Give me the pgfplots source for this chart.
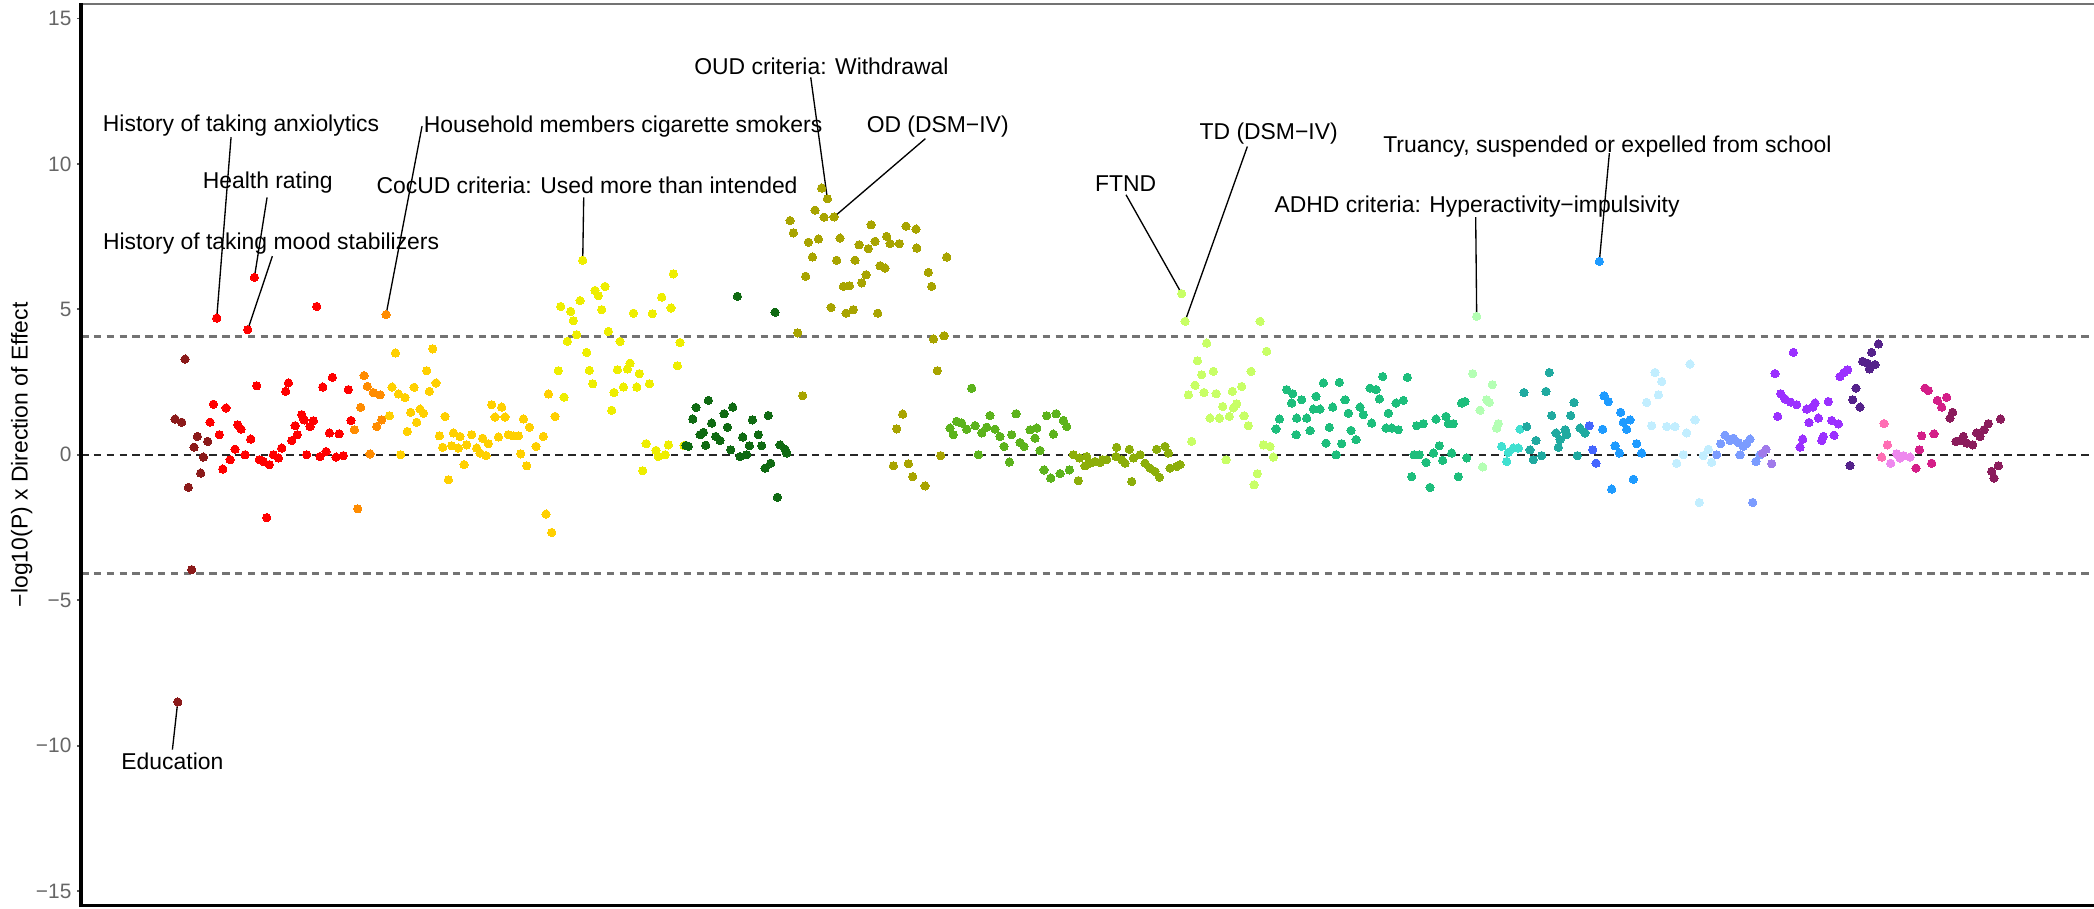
\documentclass[border=0pt]{standalone}
\usepackage{pgfplots}
\pgfplotsset{compat=1.18}
\usepackage{fontspec}
\setmainfont{Liberation Sans}
\definecolor{c1}{HTML}{8B1A1A}
\definecolor{c2}{HTML}{FF0000}
\definecolor{c3}{HTML}{FF8C00}
\definecolor{c4}{HTML}{FFD000}
\definecolor{c5}{HTML}{EEEE00}
\definecolor{c6}{HTML}{0F6A12}
\definecolor{c7}{HTML}{A8A400}
\definecolor{c8}{HTML}{5CB31C}
\definecolor{c9}{HTML}{8CAE0A}
\definecolor{c10}{HTML}{C8FF66}
\definecolor{c11}{HTML}{1DBE7C}
\definecolor{c12}{HTML}{B4FFB4}
\definecolor{c13}{HTML}{40E0D0}
\definecolor{c14}{HTML}{20AAA0}
\definecolor{c15}{HTML}{4466FF}
\definecolor{c16}{HTML}{1E9BFF}
\definecolor{c17}{HTML}{C2EEFF}
\definecolor{c18}{HTML}{7B9CFF}
\definecolor{c19}{HTML}{A07AEA}
\definecolor{c20}{HTML}{9B30FF}
\definecolor{c21}{HTML}{55228B}
\definecolor{c22}{HTML}{FF6EB4}
\definecolor{c23}{HTML}{EE88EE}
\definecolor{c24}{HTML}{D41E88}
\definecolor{c25}{HTML}{8B1C5C}
\pgfplotsset{pt/.style={only marks, mark=*, mark size=2.2pt, color=#1, mark options={fill=#1, draw=#1, line width=0pt}}}
\newcommand{\lab}{\fontsize{12.2pt}{14pt}\selectfont}
\begin{document}
\begin{tikzpicture}
\begin{axis}[
  width=376.8mm, height=168.75mm, scale only axis,
  xmin=243, xmax=6282, ymin=-15.5, ymax=15.5,
  axis line style={draw=none},
  xtick=\empty,
  ytick={-15,-10,-5,0,5,10,15},
  yticklabels={−15,−10,−5,0,5,10,15},
  ytick pos=left, tick align=outside,
  major tick length=0.75mm,
  tick style={draw=black!65, line width=0.35mm},
  yticklabel style={font=\fontsize{11.1pt}{13pt}\selectfont, text=black!60, inner xsep=1mm},
  clip=false,
]
\coordinate (sw) at (rel axis cs:0,0);
\coordinate (nw) at (rel axis cs:0,1);
\coordinate (se) at (rel axis cs:1,0);
\coordinate (ne) at (rel axis cs:1,1);
\coordinate (lm) at (rel axis cs:0,0.5);
% dark red
\addplot[pt=c1] coordinates {(555,3.29)(525,1.23)(545,1.12)(592,0.63)(623,0.46)(582,0.26)(610,-0.08)(602,-0.63)(565,-1.12)(575,-3.95)(533,-8.5)};
% red
\addplot[pt=c2] coordinates {(650,4.70)(763,6.10)(743,4.30)(950,5.10)(770,2.37)(865,2.47)(857,2.18)(997,2.66)(968,2.33)(1045,2.24)(640,1.74)(678,1.61)(630,1.12)(658,0.69)(713,1.03)(723,0.88)(752,0.54)(905,1.38)(912,1.20)(940,1.17)(930,0.97)(885,1.00)(892,0.69)(875,0.49)(845,0.23)(820,0.00)(835,-0.11)(808,-0.34)(790,-0.23)(778,-0.17)(735,0.00)(705,0.19)(690,-0.17)(668,-0.49)(920,0.00)(960,-0.06)(978,0.11)(1008,-0.08)(1030,-0.03)(988,0.75)(1017,0.72)(1053,1.18)(800,-2.16)};
% orange
\addplot[pt=c3] coordinates {(1158,4.82)(1092,2.72)(1102,2.35)(1120,2.14)(1140,2.06)(1082,1.63)(1145,1.20)(1130,0.97)(1063,0.86)(1110,0.03)(1073,-1.86)};
% gold
\addplot[pt=c4] coordinates {(1186,3.50)(1298,3.64)(1280,2.89)(1308,2.47)(1288,2.18)(1176,2.33)(1195,2.09)(1215,1.97)(1242,2.32)(1232,1.46)(1260,1.57)(1270,1.43)(1250,1.12)(1222,0.80)(1168,1.34)(1335,1.32)(1318,0.65)(1360,0.75)(1380,0.63)(1415,0.69)(1448,0.57)(1465,0.38)(1328,0.26)(1355,0.31)(1375,0.23)(1400,0.34)(1430,0.23)(1440,0.06)(1458,-0.03)(1475,1.72)(1505,1.64)(1485,1.30)(1515,1.30)(1495,0.61)(1525,0.69)(1540,0.65)(1555,0.65)(1570,1.23)(1588,0.95)(1608,0.29)(1562,0.03)(1580,-0.38)(1392,-0.34)(1345,-0.86)(1202,0.00)(1645,2.09)(1665,1.32)(1630,0.63)(1638,-2.04)(1655,-2.67)};
% yellow
\addplot[pt=c5] coordinates {(1748,6.69)(2020,6.22)(1815,5.79)(1785,5.65)(1795,5.47)(1740,5.30)(1682,5.10)(1712,4.93)(1805,4.99)(1985,5.42)(2013,5.05)(1900,4.87)(1957,4.85)(1720,4.61)(1825,4.24)(1730,4.13)(1702,3.90)(1860,3.90)(2040,3.86)(1760,3.52)(1675,2.89)(1768,2.90)(1852,2.92)(1882,2.95)(1890,3.15)(1918,2.79)(2032,3.06)(1778,2.44)(1870,2.33)(1910,2.33)(1948,2.44)(1842,2.14)(1692,1.98)(1835,1.53)(1938,0.38)(2005,0.34)(1968,0.15)(1975,-0.06)(1995,0.00)(2052,0.32)(1928,-0.55)};
% dark green
\addplot[pt=c6] coordinates {(2212,5.45)(2325,4.90)(2125,1.87)(2088,1.63)(2198,1.64)(2172,1.41)(2078,1.23)(2135,1.09)(2257,1.20)(2305,1.35)(2182,0.95)(2100,0.69)(2110,0.77)(2147,0.63)(2228,0.61)(2275,0.69)(2160,0.49)(2117,0.33)(2065,0.29)(2058,0.32)(2192,0.17)(2248,0.31)(2285,0.31)(2340,0.34)(2355,0.19)(2360,0.06)(2220,-0.06)(2240,0.00)(2312,-0.29)(2295,-0.46)(2332,-1.46)};
% olive
\addplot[pt=c7] coordinates {(2465,9.17)(2482,8.80)(2445,8.41)(2472,8.17)(2502,8.18)(2370,8.05)(2380,7.63)(2613,7.91)(2718,7.86)(2748,7.76)(2750,7.11)(2425,7.31)(2455,7.42)(2520,7.45)(2577,7.22)(2605,7.09)(2625,7.34)(2660,7.51)(2670,7.26)(2698,7.26)(2437,6.80)(2510,6.69)(2565,6.69)(2640,6.50)(2655,6.42)(2417,6.14)(2598,6.19)(2585,5.91)(2530,5.79)(2548,5.81)(2493,5.07)(2538,4.87)(2560,4.99)(2633,4.87)(2393,4.19)(2408,2.03)(2708,1.40)(2690,0.89)(2680,-0.38)(2725,-0.31)(2738,-0.75)(2840,6.80)(2785,6.27)(2795,5.79)(2800,3.98)(2832,4.09)(2812,2.89)(2822,-0.03)(2775,-1.07)};
% green
\addplot[pt=c8] coordinates {(2915,2.29)(2970,1.35)(3048,1.41)(3140,1.34)(3168,1.41)(3190,1.18)(3200,0.97)(2850,0.92)(2870,1.15)(2885,1.09)(2900,0.88)(2925,1.00)(2945,0.75)(2960,0.95)(2985,0.88)(3000,0.63)(3035,0.69)(3060,0.42)(3072,0.29)(3090,0.86)(3110,0.92)(3105,0.57)(3120,0.15)(3160,0.71)(3012,0.29)(2935,0.00)(3028,-0.25)(3132,-0.52)(3152,-0.80)(3180,-0.65)(3208,-0.52)(2860,0.69)};
% olive green
\addplot[pt=c9] coordinates {(3220,0.00)(3238,-0.11)(3235,-0.89)(3255,-0.38)(3270,-0.29)(3285,-0.23)(3300,-0.26)(3320,-0.17)(3350,0.26)(3348,-0.06)(3365,-0.17)(3388,0.19)(3400,-0.11)(3420,0.00)(3395,-0.92)(3435,-0.29)(3450,-0.46)(3465,-0.57)(3478,-0.77)(3470,0.19)(3495,0.29)(3505,0.06)(3510,-0.46)(3530,-0.40)(3540,-0.34)(3260,-0.06)(3375,-0.29)(3308,-0.17)};
% light yellow-green
\addplot[pt=c10] coordinates {(3545,5.54)(3555,4.59)(3780,4.59)(3620,3.84)(3800,3.56)(3592,3.23)(3605,2.75)(3640,2.87)(3753,2.87)(3585,2.39)(3612,2.14)(3565,2.06)(3648,2.10)(3697,2.18)(3725,2.35)(3710,1.75)(3668,1.66)(3700,1.61)(3630,1.26)(3658,1.26)(3688,1.32)(3732,1.34)(3745,1.00)(3575,0.46)(3790,0.34)(3810,0.29)(3820,-0.08)(3678,-0.17)(3772,-0.65)(3762,-1.03)};
% emerald
\addplot[pt=c11] coordinates {(3860,2.24)(3878,2.10)(3875,1.78)(3838,1.23)(3828,0.89)(3890,1.26)(3888,0.69)(3905,1.89)(3920,1.26)(3930,0.83)(3948,2.01)(3940,1.57)(3960,1.57)(3970,2.47)(4018,2.49)(3998,1.64)(3988,0.94)(3978,0.40)(4025,0.38)(4008,0.00)(4035,1.89)(4045,1.43)(4053,0.84)(4068,0.52)(4080,1.64)(4090,1.38)(4110,2.29)(4128,2.24)(4138,1.92)(4148,2.69)(4115,1.09)(4158,0.92)(4175,0.92)(4195,0.86)(4165,1.43)(4188,1.78)(4210,1.87)(4222,2.66)(4250,1.00)(4270,1.07)(4308,1.23)(4338,1.32)(4345,1.07)(4360,1.07)(4385,1.78)(4395,1.83)(4242,0.00)(4258,0.00)(4278,-0.26)(4300,0.06)(4318,0.31)(4328,-0.19)(4355,0.06)(4400,-0.11)(4235,-0.75)(4290,-1.12)(4375,-0.75)};
% pale green
\addplot[pt=c12] coordinates {(4430,4.76)(4418,2.79)(4477,2.41)(4460,1.89)(4468,1.80)(4440,1.53)(4495,1.07)(4490,0.92)(4448,-0.42)};
% turquoise
\addplot[pt=c13] coordinates {(4505,0.29)(4525,0.08)(4540,0.23)(4555,0.23)(4520,-0.23)(4560,0.88)};
% teal
\addplot[pt=c14] coordinates {(4572,2.14)(4648,2.83)(4638,2.18)(4580,0.97)(4655,1.35)(4712,1.35)(4722,1.80)(4608,0.49)(4590,0.17)(4600,-0.17)(4625,-0.03)(4668,0.75)(4680,0.52)(4695,0.86)(4700,0.69)(4675,0.26)(4732,-0.03)(4740,0.92)(4755,0.75)};
% blue
\addplot[pt=c15] coordinates {(4768,1.00)(4778,0.17)(4788,-0.29)};
% dodger blue
\addplot[pt=c16] coordinates {(4798,6.65)(4812,2.03)(4825,1.83)(4862,1.46)(4890,1.20)(4870,1.12)(4880,0.88)(4808,0.88)(4845,0.31)(4858,0.06)(4910,0.38)(4925,0.06)(4900,-0.84)(4835,-1.18)};
% light cyan
\addplot[pt=c17] coordinates {(4965,2.83)(4985,2.52)(4975,2.06)(4940,1.80)(4955,1.00)(5000,0.97)(5025,0.97)(5030,-0.29)(5070,3.12)(5085,1.20)(5060,0.75)(5050,0.00)(5110,-0.03)(5135,-0.26)(5098,-1.64)(5125,0.19)};
% cornflower
\addplot[pt=c18] coordinates {(5175,0.67)(5200,0.57)(5162,0.38)(5215,0.42)(5230,0.29)(5250,0.54)(5240,0.38)(5150,0.00)(5220,0.00)(5268,-0.23)(5258,-1.64)(5280,0.00)(5190,0.49)};
% medium purple
\addplot[pt=c19] coordinates {(5298,0.19)(5315,-0.31)(5288,0.06)};
% purple
\addplot[pt=c20] coordinates {(5380,3.52)(5325,2.79)(5342,2.10)(5355,1.92)(5372,1.81)(5390,1.72)(5420,1.57)(5438,1.64)(5445,1.78)(5485,1.83)(5333,1.32)(5427,1.11)(5455,1.26)(5495,1.18)(5515,1.06)(5520,2.69)(5532,2.83)(5543,2.92)(5408,0.54)(5400,0.26)(5470,0.63)(5465,0.49)(5502,0.67)};
% dark purple
\addplot[pt=c21] coordinates {(5635,3.81)(5615,3.52)(5588,3.21)(5602,3.15)(5608,2.95)(5625,3.10)(5568,2.29)(5558,1.89)(5580,1.64)(5550,-0.37)};
% hot pink
\addplot[pt=c22] coordinates {(5652,1.07)(5662,0.34)(5645,-0.08)};
% violet
\addplot[pt=c23] coordinates {(5672,-0.29)(5690,0.03)(5710,-0.03)(5730,-0.08)(5700,-0.11)};
% deep pink
\addplot[pt=c24] coordinates {(5775,2.29)(5785,2.21)(5812,1.87)(5840,1.98)(5825,1.64)(5765,0.65)(5802,0.72)(5758,0.17)(5748,-0.46)(5795,-0.29)};
% maroon
\addplot[pt=c25] coordinates {(5858,1.46)(5850,1.26)(6002,1.23)(5965,1.07)(5952,0.86)(5930,0.75)(5940,0.63)(5890,0.63)(5880,0.49)(5868,0.46)(5900,0.40)(5918,0.34)(5995,-0.38)(5975,-0.57)(5982,-0.80)};
% reference lines
\addplot[black!85, line width=0.4mm, dash pattern=on 1.4mm off 1.0mm] coordinates {(243,0)(6282,0)};
\addplot[black!55, line width=0.55mm, dash pattern=on 1.4mm off 1.0mm] coordinates {(243,4.07)(6282,4.07)};
\addplot[black!55, line width=0.55mm, dash pattern=on 1.4mm off 1.0mm] coordinates {(243,-4.07)(6282,-4.07)};
% leader lines
\draw[line width=0.25mm] (axis cs:693,10.92) -- (axis cs:650,4.70);
\draw[line width=0.25mm] (axis cs:801,8.85) -- (axis cs:763,6.10);
\draw[line width=0.25mm] (axis cs:817,6.83) -- (axis cs:743,4.30);
\draw[line width=0.25mm] (axis cs:1266,11.3) -- (axis cs:1158,4.82);
\draw[line width=0.25mm] (axis cs:1751,8.85) -- (axis cs:1748,6.69);
\draw[line width=0.25mm] (axis cs:2432,12.98) -- (axis cs:2482,8.80);
\draw[line width=0.25mm] (axis cs:2776,10.87) -- (axis cs:2502,8.18);
\draw[line width=0.25mm] (axis cs:3378,8.94) -- (axis cs:3545,5.54);
\draw[line width=0.25mm] (axis cs:3742,10.60) -- (axis cs:3555,4.59);
\draw[line width=0.25mm] (axis cs:4828,10.37) -- (axis cs:4798,6.65);
\draw[line width=0.25mm] (axis cs:4427,8.17) -- (axis cs:4430,4.76);
\draw[line width=0.25mm] (axis cs:517,-10.14) -- (axis cs:533,-8.5);
% labels
\node[font=\lab] at (axis cs:723,11.33) {History of taking anxiolytics};
\node[font=\lab] at (axis cs:803,9.36) {Health rating};
\node[font=\lab] at (axis cs:813,7.25) {History of taking mood stabilizers};
\node[font=\lab] at (axis cs:1869,11.28) {Household members cigarette smokers};
\node[font=\lab] at (axis cs:1761,9.27) {CocUD criteria: Used more than intended};
\node[font=\lab] at (axis cs:2464,13.35) {OUD criteria: Withdrawal};
\node[font=\lab] at (axis cs:2813,11.28) {OD (DSM−IV)};
\node[font=\lab] at (axis cs:3377,9.31) {FTND};
\node[font=\lab] at (axis cs:3806,11.06) {TD (DSM−IV)};
\node[font=\lab] at (axis cs:4822,10.60) {Truancy, suspended or expelled from school};
\node[font=\lab] at (axis cs:4431,8.53) {ADHD criteria: Hyperactivity−impulsivity};
\node[font=\lab] at (axis cs:517,-10.55) {Education};
\end{axis}
\draw[black!55, line width=0.45mm] (nw) -- (ne);
\draw[black, line width=0.6mm] (sw) -- (se);
\draw[black, line width=0.62mm] ([yshift=-0.3mm]sw) -- ([yshift=0.2mm]nw);
\node[rotate=90, font=\lab] at ([xshift=-11.1mm]lm) {−log10(P) x Direction of Effect};
\pgfresetboundingbox
\path[use as bounding box] ([xshift=-15.175mm,yshift=-0.5mm]sw) rectangle ([yshift=0.75mm]ne);
\end{tikzpicture}
\end{document}
